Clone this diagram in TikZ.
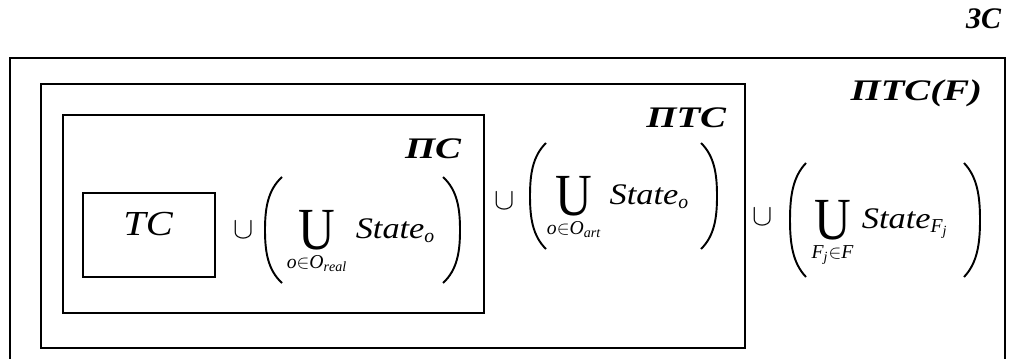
\documentclass[tikz,border=0pt]{standalone}
\usepackage{fontspec}
\setmainfont{Liberation Serif}
\newfontfamily\lblfont[FakeStretch=1.3]{Liberation Serif}
\newfontfamily\widefont[FakeStretch=1.15]{Liberation Serif}
\usepackage{amsmath}
\usepackage{graphicx}
\usepackage{tikz}
\usetikzlibrary{positioning}

\newcommand{\bigU}{\mathop{\vcenter{\hbox{\fontsize{34}{34}\selectfont\scalebox{0.85}[1]{U}}}}\limits}
\newcommand{\stname}{\text{\fontsize{17}{20}\selectfont\widefont\itshape State}}
% outer x, centre y, width (signed), half height
\newcommand{\paren}[4]{\draw[parenline] ({#1+#3},{#2-#4}) .. controls ({#1+0.15*#3},{#2-0.75*#4}) and (#1,{#2-0.4*#4}) .. (#1,#2) .. controls (#1,{#2+0.4*#4}) and ({#1+0.15*#3},{#2+0.75*#4}) .. ({#1+#3},{#2+#4});}

\begin{document}
\begin{tikzpicture}[x=0.02cm, y=-0.02cm, line width=1pt,
  lbl/.style={font=\fontsize{17}{20}\selectfont\lblfont\bfseries\itshape, inner sep=0pt},
  frm/.style={font=\fontsize{16}{20}\selectfont, inner sep=0pt},
  cupsign/.style={font=\fontsize{18}{20}\selectfont, inner sep=0pt},
  parenline/.style={line width=1.1pt}]
\useasboundingbox (0,0) rectangle (1013,358);

\draw (10,362) -- (10,58) -- (1005,58) -- (1005,362);
\draw (41,84) rectangle (745,348);
\draw (63,115) rectangle (484,313);
\draw (83,193) rectangle (215,277);

\node[lbl, font=\fontsize{17}{20}\selectfont\bfseries\itshape, anchor=base east] (zs) at (1002,29) {ЗС};
\node[lbl, anchor=base east] (ptsf) at (983,100) {ПТС(F)};
\node[lbl, anchor=base east] (pts) at (727,127) {ПТС};
\node[lbl, anchor=base east] (ps) at (462,158) {ПС};
\node[font=\fontsize{20}{24}\selectfont\widefont\itshape, inner sep=0pt] (tc) at (148,224) {ТС};

\node[cupsign] (cup1) at (244,230) {$\cup$};
\node[frm, anchor=base] (real) at (361,238) {$\bigU_{\mathit{o}\in\mathit{O}_{\mathit{real}}}\hspace{2pt}\stname_{\mathit{o}}$};
\paren{265}{230}{17}{53}
\paren{460}{230}{-17}{53}

\node[cupsign] (cup2) at (505,201) {$\cup$};
\node[frm, anchor=base] (art) at (618,204) {$\bigU_{\mathit{o}\in\mathit{O}_{\mathit{art}}}\hspace{2pt}\stname_{\mathit{o}}$};
\paren{530}{196}{16}{53}
\paren{717}{196}{-16}{53}

\node[cupsign] (cup3) at (763,217) {$\cup$};
\node[frm, anchor=base] (fj) at (880,228) {$\bigU_{\mathit{F}_{\mathit{j}}\in\mathit{F}}\hspace{2pt}\stname_{\mathit{F}_{\mathit{j}}}$};
\paren{790}{220}{16}{57}
\paren{980}{220}{-16}{57}
\end{tikzpicture}
\end{document}
